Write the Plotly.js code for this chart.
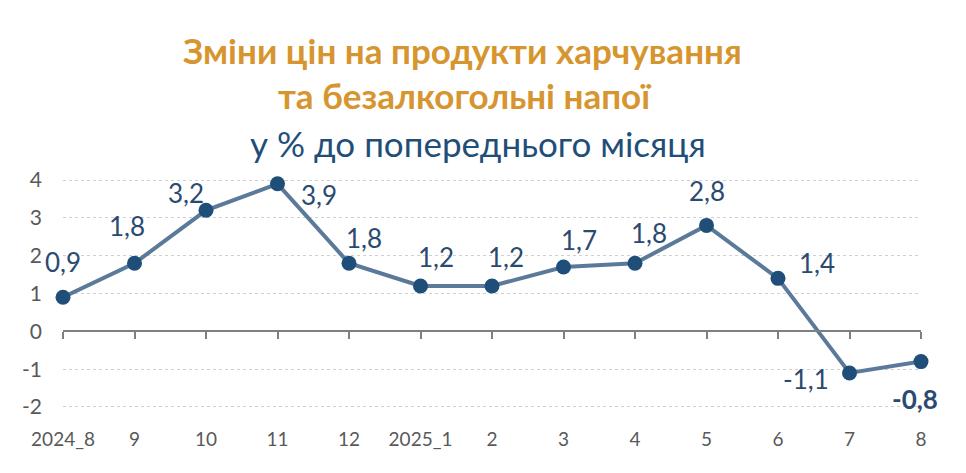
<!DOCTYPE html>
<html>
<head>
<meta charset="utf-8">
<script src="https://cdn.plot.ly/plotly-3.0.1.min.js"></script>
<style>
  html, body { margin: 0; padding: 0; background: #fff; }
  #chart { width: 966px; height: 473px; }
</style>
</head>
<body>
<div id="chart"></div>
<script>
// months: Aug 2024 .. Aug 2025
const months = ['2024_8', '9', '10', '11', '12', '2025_1', '2', '3', '4', '5', '6', '7', '8'];
const change = [0.9, 1.8, 3.2, 3.9, 1.8, 1.2, 1.2, 1.7, 1.8, 2.8, 1.4, -1.1, -0.8];
const yTicks = [-2, -1, 0, 1, 2, 3, 4];

// label offsets from the marker, in px (x right, y up)
const labelShift = [
  [0, 35], [-8, 37], [-20, 17], [41, -11], [15, 25], [15, 29], [14, 29],
  [15, 27], [14, 30], [0, 34], [39, 15], [-44, -6], [-6, -37]
];

const fontFam = 'Lato, "Open Sans", sans-serif';
const labelColor = '#2a4a70';

let trace = {
  x: months,
  y: change,
  type: 'scatter',
  mode: 'lines+markers',
  line: {color: '#5b7a99', width: 4},
  marker: {color: '#1f4e79', size: 15},
  cliponaxis: false,
  hoverinfo: 'skip'
};

let annotations = change.map((v, i) => {
  let txt = v.toFixed(1).replace('.', ',');
  let last = i == change.length - 1;
  return {
    x: i, y: v, xref: 'x', yref: 'y',
    text: last ? '<b>' + txt + '</b>' : txt,
    showarrow: false,
    xanchor: 'center', yanchor: 'middle',
    xshift: labelShift[i][0],
    yshift: labelShift[i][1],
    font: {family: fontFam, size: 26, color: labelColor}
  };
});

// title lines
annotations.push(
  {xref: 'paper', yref: 'paper', x: 0.466, y: 1.48, showarrow: false,
   xanchor: 'center', yanchor: 'middle',
   text: '<b>Зміни цін на продукти харчування</b>',
   font: {family: fontFam, size: 35, color: '#d6952e'}},
  {xref: 'paper', yref: 'paper', x: 0.468, y: 1.30, showarrow: false,
   xanchor: 'center', yanchor: 'middle',
   text: '<b>та безалкогольні напої</b>',
   font: {family: fontFam, size: 35, color: '#d6952e'}},
  {xref: 'paper', yref: 'paper', x: 0.484, y: 1.108, showarrow: false,
   xanchor: 'center', yanchor: 'middle',
   text: 'у % до попереднього місяця',
   font: {family: fontFam, size: 35, color: '#1f4e79'}}
);

const yMin = -2.344, yMax = 4.265;

let layout = {
  width: 966,
  height: 473,
  margin: {l: 63, r: 45, t: 170, b: 53, pad: 0},
  paper_bgcolor: '#fff',
  plot_bgcolor: '#fff',
  showlegend: false,
  font: {family: fontFam, color: '#595959'},
  xaxis: {
    type: 'category',
    range: [0, months.length - 1],
    showgrid: false,
    zeroline: false,
    showline: false,
    ticks: '',
    ticklabelstandoff: 6,
    tickfont: {size: 19, color: '#595959'}
  },
  // zero line with tick marks
  xaxis2: {
    type: 'category',
    overlaying: 'x',
    matches: 'x',
    anchor: 'free',
    position: (0 - yMin) / (yMax - yMin),
    showline: true,
    linecolor: '#808080',
    linewidth: 2,
    ticks: 'outside',
    ticklen: 7,
    tickwidth: 2,
    tickcolor: '#808080',
    showticklabels: false,
    showgrid: false,
    zeroline: false
  },
  yaxis: {
    range: [yMin, yMax],
    tickvals: yTicks,
    ticktext: yTicks.map(String),
    showgrid: true,
    gridcolor: '#d0d0d0',
    griddash: 'dot',
    gridwidth: 1,
    zeroline: false,
    showline: false,
    ticks: '',
    ticklabelstandoff: 20,
    tickfont: {size: 21, color: '#595959'}
  },
  annotations: annotations
};

let zeroTrace = {
  x: months, y: months.map(() => null), xaxis: 'x2', type: 'scatter',
  mode: 'lines', hoverinfo: 'skip', showlegend: false
};

Plotly.newPlot('chart', [zeroTrace, trace], layout, {staticPlot: true, displayModeBar: false});
</script>
</body>
</html>
